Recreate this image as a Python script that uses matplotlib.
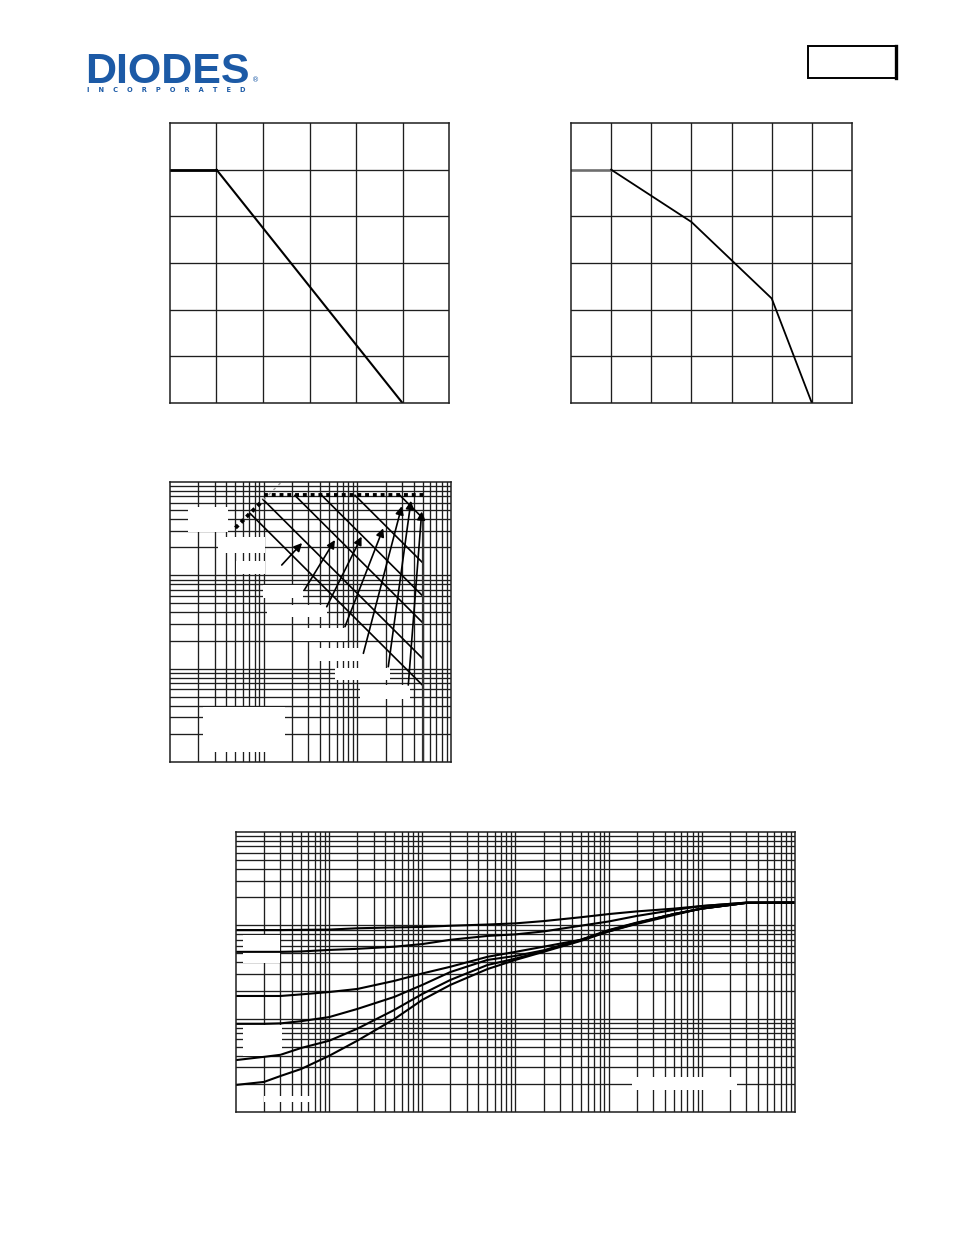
import numpy as np
import matplotlib
matplotlib.use("Agg")
import matplotlib.pyplot as plt
from matplotlib.patches import Rectangle

# ---------------- data ----------------
# Chart 1: derating curve (temperature vs normalised power)
derate1_temp = [0, 25, 125]
derate1_power = [1.0, 1.0, 0.0]

# Chart 2: derating curve (temperature vs current)
derate2_temp = [0, 25, 75, 125, 150]
derate2_current = [5.0, 5.0, 3.88, 2.24, 0.0]

# Chart 3: safe operating area
rds_on = 0.155
rds_v = [0.5, 1.0]
rds_faint_v = [1.0, 2.2]
id_limit = 7.2
id_limit_v = [1.0, 50.0]
vds_max = 50.0
soa_power = [3.3, 6.4, 15.5, 30.0, 68.0, 205.0]
soa_v_start = [0.72, 1.0, 2.16, 4.17, 9.44, 28.5]
arrow_tail_v = [1.56, 2.72, 4.71, 7.38, 11.6, 21.4, 35.0]
arrow_tail_i = [1.29, 0.697, 0.461, 0.282, 0.146, 0.105, 0.0668]
arrow_head_v = [2.57, 5.77, 11.1, 18.9, 29.8, 37.4, 48.7]
arrow_head_i = [2.22, 2.39, 2.6, 3.19, 5.5, 6.3, 4.83]

# Chart 4: transient thermal response
pulse_time = [1e-4, 2e-4, 3e-4, 5e-4, 1e-3, 2e-3, 5e-3, 1e-2, 2e-2, 5e-2,
              0.1, 0.2, 0.5, 1, 2, 5, 10, 30, 100]
zth_c1 = [89, 89, 89, 89.5, 90, 93, 95, 96, 99, 102, 105, 111, 122, 132, 141, 151, 161, 175, 175]
zth_c2 = [52, 52, 52, 52.5, 54.5, 56, 59, 63, 70, 77, 80, 86, 99, 110, 126, 146, 161, 175, 175]
zth_c3 = [17.5, 17.5, 17.5, 18.2, 19.3, 20.8, 25.4, 30.5, 36, 46, 52, 59, 70, 86, 103.5, 129, 152, 174, 175]
zth_c4 = [8.8, 8.8, 8.9, 9.4, 10.4, 12.7, 17.1, 23, 31.6, 42.6, 47, 54, 70, 89, 107, 132, 151, 174, 175]
zth_c5 = [3.6, 3.9, 4.1, 4.85, 5.8, 7.8, 12.4, 18.4, 26, 37.6, 44, 53, 69, 88, 106, 132, 151, 174, 175]
zth_c6 = [1.95, 2.1, 2.43, 2.89, 4.0, 5.8, 9.9, 15.9, 23, 34, 42.6, 52, 68, 86, 105, 132, 151, 174, 175]

# ---------------- figure ----------------
W, H = 954, 1235
fig = plt.figure(figsize=(W / 100, H / 100), dpi=100)
GRID = "#1e1e1e"
GLW = 0.95
LOGO = "#1c5aa6"


def add_axes_px(x0, y0, x1, y1):
    return fig.add_axes([x0 / W, 1 - y1 / H, (x1 - x0) / W, (y1 - y0) / H])


def style(ax):
    ax.tick_params(which="both", length=0, labelbottom=False, labelleft=False)
    for s in ax.spines.values():
        s.set_color(GRID)
        s.set_linewidth(1.1)
        s.set_zorder(6)


def white_box(ax, x0, y0, x1, y1, z=2.5):
    bb = ax.get_position()
    fx0, fx1 = x0 / W, x1 / W
    fy0, fy1 = 1 - y1 / H, 1 - y0 / H
    ax.add_patch(Rectangle(((fx0 - bb.x0) / bb.width, (fy0 - bb.y0) / bb.height),
                           (fx1 - fx0) / bb.width, (fy1 - fy0) / bb.height,
                           transform=ax.transAxes, facecolor="white",
                           edgecolor="none", zorder=z))


def log_grid(ax, xd, yd):
    for d in range(xd[0], xd[1]):
        for k in range(1, 10):
            if d == xd[0] and k == 1:
                continue
            ax.axvline(k * 10.0 ** d, color=GRID, lw=GLW, zorder=2)
    for d in range(yd[0], yd[1]):
        for k in range(1, 10):
            if d == yd[0] and k == 1:
                continue
            ax.axhline(k * 10.0 ** d, color=GRID, lw=GLW, zorder=1)


# ---- header ----
fig.text(85 / W, 1 - 83 / H, "DIODES", fontsize=31, fontweight="bold",
         family="Liberation Sans", color=LOGO, ha="left", va="baseline")
fig.text(252 / W, 1 - 82 / H, "®", fontsize=5, color=LOGO, ha="left", va="baseline")
fig.text(87 / W, 1 - 92 / H, "    ".join("INCORPORATED"), fontsize=4.8,
         fontweight="bold", color=LOGO, ha="left", va="baseline")
fig.add_artist(Rectangle((808 / W, 1 - 78 / H), 88 / W, 32 / H, transform=fig.transFigure,
                         facecolor="none", edgecolor="black", lw=1.4))
fig.add_artist(plt.Line2D([896 / W, 896 / W], [1 - 78 / H, 1 - 46 / H],
                          transform=fig.transFigure, color="black", lw=2.4))

# ---- chart 1 ----
ax1 = add_axes_px(170, 123, 449, 403)
ax1.set_xlim(0, 150)
ax1.set_ylim(0, 1.2)
for v in np.arange(25, 150, 25):
    ax1.axvline(v, color=GRID, lw=GLW, zorder=1)
for v in np.arange(0.2, 1.2, 0.2):
    ax1.axhline(v, color=GRID, lw=GLW, zorder=1)
ax1.plot(derate1_temp[:2], derate1_power[:2], color="black", lw=2.0, zorder=3)
ax1.plot(derate1_temp[1:], derate1_power[1:], color="black", lw=1.5, zorder=3)
style(ax1)

# ---- chart 2 ----
ax2 = add_axes_px(571, 123, 852, 403)
ax2.set_xlim(0, 175)
ax2.set_ylim(0, 6)
for v in np.arange(25, 175, 25):
    ax2.axvline(v, color=GRID, lw=GLW, zorder=1)
for v in np.arange(1, 6, 1):
    ax2.axhline(v, color=GRID, lw=GLW, zorder=1)
ax2.plot(derate2_temp[:2], derate2_current[:2], color="#6e6e6e", lw=1.8, zorder=3)
ax2.plot(derate2_temp[1:], derate2_current[1:], color="black", lw=1.3, zorder=3)
style(ax2)

# ---- chart 3: SOA ----
ax3 = add_axes_px(170, 482, 451, 762)
ax3.set_xscale("log")
ax3.set_yscale("log")
ax3.set_xlim(0.1, 100)
ax3.set_ylim(0.01, 10)
log_grid(ax3, (-1, 2), (-2, 1))
for b in [(188, 507, 228, 532), (218, 537, 265, 553), (236, 561, 265, 574),
          (263, 585, 303, 598), (267, 605, 327, 617), (295, 628, 347, 641),
          (312, 648, 360, 661), (335, 668, 390, 680), (360, 685, 410, 699),
          (203, 707, 285, 752)]:
    white_box(ax3, *b)
rv = np.array(rds_v)
ax3.plot(rv, rv / rds_on, color="black", lw=2.8, linestyle=(0, (1, 1)),
         dash_capstyle="butt", zorder=4)
fv = np.array(rds_faint_v)
ax3.plot(fv, fv / rds_on, color="#9a9a9a", lw=1.0, linestyle=(0, (2, 3)), zorder=4)
ax3.plot(id_limit_v, [id_limit, id_limit], color="black", lw=2.8,
         linestyle=(0, (1, 1)), dash_capstyle="butt", zorder=4)
for p, vs in zip(soa_power, soa_v_start):
    v = np.array([vs, vds_max])
    ax3.plot(v, p / v, color="black", lw=1.2, zorder=3)
ax3.plot([vds_max, vds_max], [0.01, soa_power[-1] / vds_max], color="#333333",
         lw=1.6, zorder=3)
for tv, ti, hv, hi in zip(arrow_tail_v, arrow_tail_i, arrow_head_v, arrow_head_i):
    ax3.annotate("", xy=(hv, hi), xytext=(tv, ti),
                 arrowprops=dict(arrowstyle="-|>", color="black", lw=1.2,
                                 mutation_scale=12, shrinkA=0, shrinkB=0),
                 zorder=4)
style(ax3)

# ---- chart 4: transient thermal ----
ax4 = add_axes_px(236, 832, 795, 1112)
ax4.set_xscale("log")
ax4.set_yscale("log")
ax4.set_xlim(1e-4, 100)
ax4.set_ylim(1, 1000)
log_grid(ax4, (-4, 2), (0, 3))
for b in [(243, 935, 280, 963), (243, 1025, 282, 1056), (264, 1096, 311, 1102),
          (632, 1077, 737, 1090)]:
    white_box(ax4, *b)
for c in [zth_c1, zth_c2, zth_c3, zth_c4, zth_c5, zth_c6]:
    ax4.plot(pulse_time, c, color="black", lw=1.5, zorder=3)
style(ax4)

fig.savefig("out.png", dpi=100, facecolor="white")
